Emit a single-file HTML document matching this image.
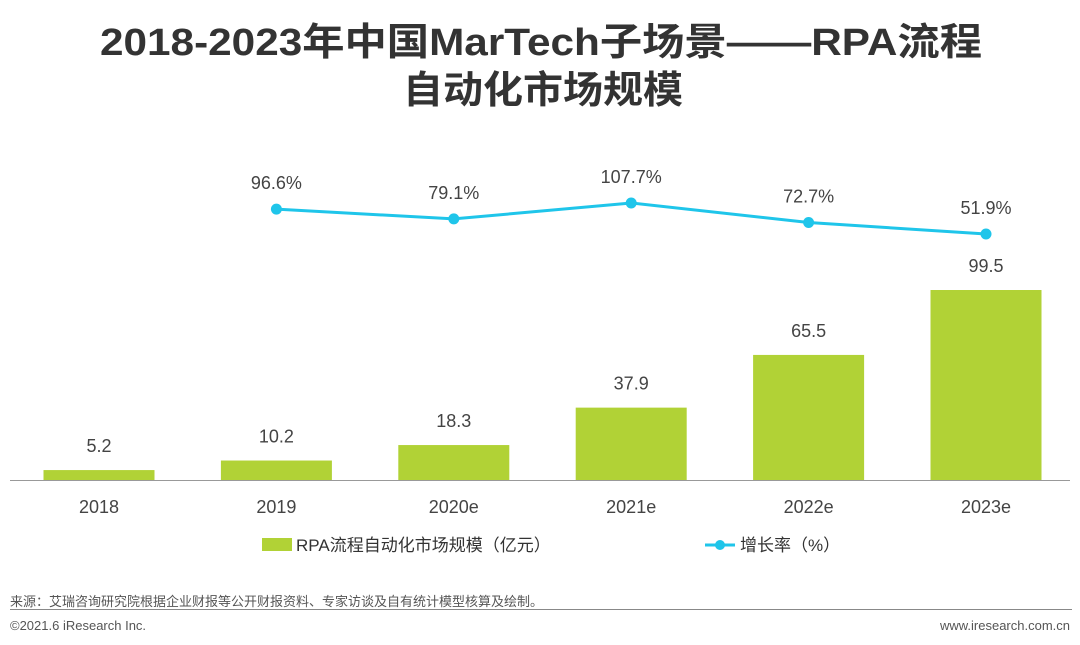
<!DOCTYPE html>
<html><head><meta charset="utf-8"><style>
body{margin:0;background:#fff;}
svg{display:block;font-family:"Liberation Sans","Noto Sans CJK SC",sans-serif;}
</style></head><body>
<svg id="chart" width="1080" height="645" viewBox="0 0 1080 645">
<text x="541" y="55" text-anchor="middle" font-size="38" font-weight="bold" fill="#333" textLength="882" lengthAdjust="spacingAndGlyphs">2018-2023年中国MarTech子场景——RPA流程</text>
<text x="543" y="103" text-anchor="middle" font-size="38" font-weight="bold" fill="#333" textLength="280" lengthAdjust="spacingAndGlyphs">自动化市场规模</text>
<g id="bars"></g>
<g id="line"></g>
<line x1="10" y1="480.5" x2="1070" y2="480.5" stroke="#999" stroke-width="1"/>
<g id="xlabels"></g>
<rect x="262" y="538" width="30" height="13" fill="#b1d236"/>
<text x="296" y="551" font-size="17" fill="#333">RPA流程自动化市场规模（亿元）</text>
<line x1="705" y1="545" x2="735" y2="545" stroke="#1fc5ea" stroke-width="3"/>
<circle cx="720" cy="545" r="5" fill="#1fc5ea"/>
<text x="740" y="551" font-size="17" fill="#333">增长率（%）</text>
<text x="10" y="606" font-size="13" fill="#555">来源：艾瑞咨询研究院根据企业财报等公开财报资料、专家访谈及自有统计模型核算及绘制。</text>
<line x1="10" y1="609.5" x2="1072" y2="609.5" stroke="#888" stroke-width="1"/>
<text x="10" y="630" font-size="13" fill="#555">©2021.6 iResearch Inc.</text>
<text x="1070" y="630" text-anchor="end" font-size="13" fill="#555">www.iresearch.com.cn</text>
</svg>
<script>
const categories=["2018","2019","2020e","2021e","2022e","2023e"];
const marketValues=[5.2,10.2,18.3,37.9,65.5,99.5];
const growthCats=["2019","2020e","2021e","2022e","2023e"];
const growthValues=[96.6,79.1,107.7,72.7,51.9];
const NS="http://www.w3.org/2000/svg";
const xC=i=>99+i*177.4;
const yBar=v=>480-v*(190/99.5);
const yLine=v=>203+(107.7-v)*0.556;
function mk(t,a,p){const e=document.createElementNS(NS,t);for(const k in a)e.setAttribute(k,a[k]);p.appendChild(e);return e;}
const gb=document.getElementById('bars'),gl=document.getElementById('line'),gx=document.getElementById('xlabels');
categories.forEach((c,i)=>{
 const v=marketValues[i],y=yBar(v);
 const r=mk('rect',{x:xC(i)-55.5,y:y,width:111,height:480-y,fill:'#b1d236'},gb);
 
 
 const t=mk('text',{x:xC(i),y:y-18,'text-anchor':'middle','font-size':18,fill:'#444'},gb);t.textContent=v.toFixed(1);
 
 
 const l=mk('text',{x:xC(i),y:513,'text-anchor':'middle','font-size':18,fill:'#444'},gx);l.textContent=c;
 
 
});
const pts=growthCats.map((c,j)=>[xC(categories.indexOf(c)),yLine(growthValues[j])]);
const pl=mk('polyline',{points:pts.map(p=>p.join(',')).join(' '),fill:'none',stroke:'#1fc5ea','stroke-width':3},gl);


pts.forEach((p,j)=>{
 const c=mk('circle',{cx:p[0],cy:p[1],r:5.5,fill:'#1fc5ea'},gl);
 
 
 const t=mk('text',{x:p[0],y:p[1]-20,'text-anchor':'middle','font-size':18,fill:'#444'},gl);t.textContent=growthValues[j].toFixed(1)+'%';
 
 
});
</script>
</body></html>
